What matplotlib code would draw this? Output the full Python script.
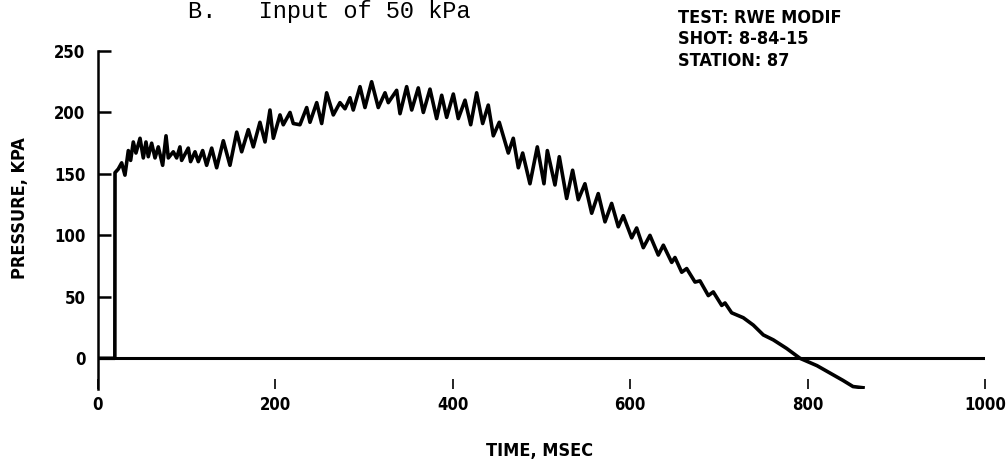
import matplotlib.pyplot as plt

# Trykk-tid kurve, lese av frå biletet (msek, kPa)
time_ms = [0, 10, 19.0, 19.2, 22.9, 26.7, 30.4, 34.2, 36.8, 39.8, 42.8, 47.4, 51.1,
           54.1, 56.7, 60.5, 64.3, 68.0, 72.9, 76.7, 79.3, 84.9, 88.7, 92.4, 94.3,
           101.8, 104.4, 109.4, 113.1, 118.0, 122.5, 128.2, 133.8, 141.3, 148.8,
           156.4, 162.0, 169.5, 175.1, 182.6, 188.3, 193.9, 197.7, 205.2, 208.9,
           216.5, 220.2, 227.7, 235.3, 239.0, 246.6, 252.2, 257.8, 265.3, 272.8,
           278.5, 284.1, 287.8, 295.4, 301.0, 308.5, 316.0, 323.6, 327.3, 336.7,
           340.5, 348.0, 353.7, 361.1, 366.8, 374.3, 381.8, 387.5, 393.1, 400.6,
           406.2, 413.8, 420.2, 426.9, 433.7, 440.0, 445.7, 452.4, 462.6, 468.2,
           473.9, 478.8, 487.0, 495.3, 502.8, 506.6, 515.2, 520.1, 528.4, 535.1,
           541.5, 549.0, 556.6, 564.0, 571.6, 579.1, 586.6, 592.2, 601.7, 607.3,
           614.8, 622.3, 631.7, 637.4, 646.8, 650.5, 658.1, 663.7, 673.1, 678.7,
           688.1, 693.7, 703.2, 706.9, 714.4, 727.5, 738.8, 750.1, 761.3, 776.4,
           791.4, 810.6, 825.3, 839.9, 851.2, 862.5]
pressure_kpa = [0, 0, 0, 151, 154, 159, 149, 169, 161, 176, 167, 179, 163,
                176, 164, 175, 163, 172, 157, 181, 163, 168, 163, 172, 161,
                171, 160, 168, 160, 169, 157, 171, 155, 177, 157,
                184, 168, 186, 172, 192, 176, 202, 179, 198, 190,
                200, 191, 190, 204, 192, 208, 191, 216, 198, 208,
                203, 212, 202, 221, 204, 225, 204, 216, 208, 218,
                199, 221, 202, 220, 200, 219, 195, 214, 196, 215,
                195, 210, 190, 216, 191, 206, 181, 192, 167, 179,
                155, 167, 142, 172, 142, 169, 141, 164, 130, 153,
                129, 142, 118, 134, 111, 126, 107, 116, 98, 106,
                90, 100, 84, 92, 78, 82, 70, 73, 62, 63,
                51, 54, 43, 45, 37, 33, 27, 19, 15, 8,
                0, -6, -12, -18, -23, -24]

# Nullinje
baseline_t = [0, 1000]
baseline_p = [0, 0]

x_ticks = [0, 200, 400, 600, 800, 1000]
y_ticks = [0, 50, 100, 150, 200, 250]

plt.rcParams['font.family'] = ['DejaVu Sans']
plt.rcParams['font.weight'] = 'bold'
plt.rcParams['font.stretch'] = 'condensed'

fig = plt.figure(figsize=(10.06, 4.68), dpi=100)
ax = fig.add_axes([0.0974, 0.1688, 0.8817, 0.7222])

ax.plot(baseline_t, baseline_p, color="black", lw=2.2)
ax.plot(time_ms, pressure_kpa, color="black", lw=2.6, solid_joinstyle="round")

ax.set_xlim(0, 1000)
ax.set_ylim(-25, 250)
ax.set_xticks(x_ticks)
ax.set_yticks(y_ticks)

for side in ["top", "right", "bottom"]:
    ax.spines[side].set_visible(False)
ax.spines["left"].set_linewidth(1.8)

ax.tick_params(axis="y", direction="in", length=9, width=1.8, pad=9, labelsize=12)
ax.tick_params(axis="x", direction="in", length=7, width=1.2, pad=5, labelsize=12)

fig.text(540 / 1006, 1 - 451 / 468, "TIME, MSEC", ha="center", va="center", fontsize=13)
fig.text(20 / 1006, 1 - 208 / 468, "PRESSURE, KPA", ha="center", va="center",
         rotation=90, fontsize=13)

fig.text(678 / 1006, 1 - 9 / 468, "TEST: RWE MODIF\nSHOT: 8-84-15\nSTATION: 87",
         ha="left", va="top", fontsize=13, linespacing=1.25)

fig.text(188 / 1006, 1 - 18 / 468, "B.   Input of 50 kPa", ha="left", va="baseline",
         fontsize=17, family="Liberation Mono", weight="normal", stretch="normal")

fig.savefig("out.png", dpi=100)
